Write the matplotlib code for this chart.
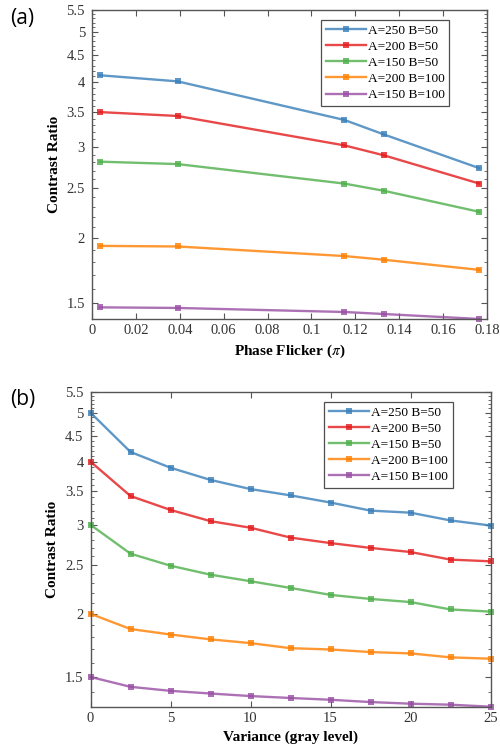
import matplotlib
matplotlib.use("Agg")
import matplotlib.pyplot as plt
from matplotlib.ticker import FixedLocator, MultipleLocator, FuncFormatter, NullFormatter

plt.rcParams['font.family'] = ['Liberation Serif', 'DejaVu Serif']
plt.rcParams['mathtext.fontset'] = 'stix'

labels = ["A=250 B=50", "A=200 B=50", "A=150 B=50", "A=200 B=100", "A=150 B=100"]
colors = ["#377eb8", "#e41a1c", "#4daf4a", "#ff7f00", "#984ea3"]

# (a) Phase flicker
flicker = [0.0035, 0.039, 0.115, 0.133, 0.1765]
a_250_50 = [4.12, 4.01, 3.38, 3.17, 2.73]
a_200_50 = [3.50, 3.44, 3.02, 2.89, 2.55]
a_150_50 = [2.81, 2.78, 2.55, 2.47, 2.25]
a_200_100 = [1.935, 1.93, 1.85, 1.82, 1.74]
a_150_100 = [1.474, 1.47, 1.444, 1.431, 1.40]

# (b) Variance
variance = [0, 2.5, 5, 7.5, 10, 12.5, 15, 17.5, 20, 22.5, 25]
b_250_50 = [5.0, 4.18, 3.89, 3.68, 3.53, 3.43, 3.32, 3.20, 3.17, 3.06, 2.99]
b_200_50 = [4.0, 3.42, 3.21, 3.05, 2.96, 2.83, 2.76, 2.70, 2.65, 2.56, 2.54]
b_150_50 = [3.0, 2.63, 2.49, 2.39, 2.32, 2.25, 2.18, 2.14, 2.11, 2.04, 2.02]
b_200_100 = [2.0, 1.866, 1.82, 1.78, 1.75, 1.71, 1.70, 1.68, 1.67, 1.64, 1.63]
b_150_100 = [1.5, 1.434, 1.408, 1.391, 1.375, 1.363, 1.352, 1.338, 1.328, 1.322, 1.31]

yticks = [1.5, 2, 2.5, 3, 3.5, 4, 4.5, 5, 5.5]

fig = plt.figure(figsize=(5.0, 7.53), dpi=100)
ax1 = fig.add_axes([0.184, 0.5764, 0.79, 0.4103])
ax2 = fig.add_axes([0.181, 0.0615, 0.80, 0.4183])

spine_col = "#555555"
tick_col = "#333333"

def style(ax, x, series, xlim, ylim, xticks, xlabel):
    for ys, c, l in zip(series, colors, labels):
        ax.plot(x, ys, color=c, lw=1.7, alpha=0.8, marker='s', ms=4,
                markeredgewidth=0, label=l, clip_on=False)
    ax.set_yscale('log')
    ax.set_xlim(*xlim)
    ax.set_ylim(*ylim)
    ax.yaxis.set_major_locator(FixedLocator(yticks))
    ax.yaxis.set_major_formatter(FuncFormatter(lambda v, p: "%g" % v))
    ax.yaxis.set_minor_locator(MultipleLocator(0.1))
    ax.yaxis.set_minor_formatter(NullFormatter())
    ax.set_xticks(xticks)
    ax.xaxis.set_major_formatter(FuncFormatter(lambda v, p: "%g" % round(v, 4)))
    ax.tick_params(which='both', direction='in', top=True, right=True,
                   colors=spine_col, labelcolor=tick_col, labelsize=10.5)
    ax.tick_params(which='major', length=4, width=0.8)
    ax.tick_params(which='minor', length=2, width=0.6)
    ax.tick_params(axis='y', pad=5)
    for s in ax.spines.values():
        s.set_color(spine_col)
        s.set_linewidth(1.0)
    ax.set_ylabel("Contrast Ratio", fontsize=11, fontweight='bold', labelpad=4)
    ax.set_xlabel(xlabel, fontsize=11, fontweight='bold', labelpad=4)
    leg = ax.legend(loc='upper right', bbox_to_anchor=(0.905, 0.968), fontsize=9.6,
                    frameon=True, fancybox=False, edgecolor='#222222',
                    handlelength=3.0, handletextpad=0.15, labelspacing=0.28,
                    borderpad=0.35, borderaxespad=0)
    leg.get_frame().set_linewidth(0.9)

style(ax1, flicker, [a_250_50, a_200_50, a_150_50, a_200_100, a_150_100],
      (0, 0.18), (1.40, 5.5), [0, 0.02, 0.04, 0.06, 0.08, 0.1, 0.12, 0.14, 0.16, 0.18],
      r"Phase Flicker ($\pi$)")
style(ax2, variance, [b_250_50, b_200_50, b_150_50, b_200_100, b_150_100],
      (0, 25), (1.31, 5.5), [0, 5, 10, 15, 20, 25],
      "Variance (gray level)")

fig.text(0.02, 0.99, "(a)", fontsize=15, family=['Open Sans', 'DejaVu Sans'], va='top', ha='left')
fig.text(0.02, 0.483, "(b)", fontsize=15, family=['Open Sans', 'DejaVu Sans'], va='top', ha='left')

fig.savefig("out.png", dpi=100)
